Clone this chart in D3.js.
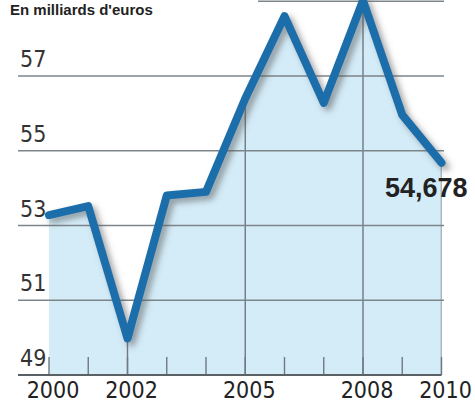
<!DOCTYPE html>
<html><head><meta charset="utf-8">
<script src="https://cdn.jsdelivr.net/npm/d3@7"></script>
<style>
html,body{margin:0;padding:0;background:#fff;}
svg{display:block;}
</style></head>
<body>
<svg id="c" width="475" height="405"></svg>
<script>
const title = "En milliards d'euros";
const years = [2000,2001,2002,2003,2004,2005,2006,2007,2008,2009,2010];
const values = [53.28,53.52,49.98,53.8,53.9,56.4,58.6,56.28,59.02,55.96,54.678];
const yTicks = [49,51,53,55,57,59];
const yTickLabels = ["49","51","53","55","57",""];
const xTickLabels = [2000,2002,2005,2008,2010];
const fullGridYears = [2002,2005,2008,2010];
const lastLabel = "54,678";

const svg = d3.select("#c");
const x = d3.scaleLinear().domain([2000,2010]).range([49,441.5]);
const y = d3.scaleLinear().domain([49,59]).range([375,1.25]);

const data = years.map((yr,i)=>({yr, v: values[i]}));

const defs = svg.append("defs");
const f = defs.append("filter").attr("id","sh").attr("x","-20%").attr("y","-20%").attr("width","140%").attr("height","140%");
f.append("feDropShadow").attr("dx",4).attr("dy",4).attr("stdDeviation",3).attr("flood-color","#555").attr("flood-opacity",0.55);

const area = d3.area().x(d=>x(d.yr)).y0(y(49)).y1(d=>y(d.v));
defs.append("clipPath").attr("id","ac").append("path").attr("d", area(data));

// area fill
svg.append("path").attr("d", area(data)).attr("fill","#d3ecf8");

// vertical gridlines clipped to area
svg.append("g").attr("clip-path","url(#ac)")
  .selectAll("line").data(fullGridYears).join("line")
  .attr("x1",d=>x(d)).attr("x2",d=>x(d))
  .attr("y1",0).attr("y2",y(49))
  .attr("stroke","#6f7a80").attr("stroke-width",1.4);

// small ticks
svg.append("g").selectAll("line").data(years).join("line")
  .attr("x1",d=>x(d)).attr("x2",d=>x(d))
  .attr("y1",y(49)-18).attr("y2",y(49))
  .attr("stroke","#6f7a80").attr("stroke-width",1.4);

// horizontal gridlines
svg.append("g").selectAll("line").data(yTicks).join("line")
  .attr("x1",d=>d===59?258:18).attr("x2",d=>d===49?x(2010):444)
  .attr("y1",d=>y(d)).attr("y2",d=>y(d))
  .attr("stroke",d=>d===49?"#5a6166":"#7d8589").attr("stroke-width",d=>d===49?2:1.4);

// y labels
svg.append("g").selectAll("text").data(yTicks).join("text")
  .attr("x",20).attr("y",d=>y(d)-9)
  .attr("font-family","'Liberation Sans Narrow','DejaVu Sans Condensed',sans-serif")
  .attr("font-size",23).attr("fill","#333")
  .text((d,i)=>yTickLabels[i]);

// x labels
svg.append("g").selectAll("text").data(xTickLabels).join("text")
  .attr("x",d=>x(d)+4).attr("y",398)
  .attr("text-anchor","middle")
  .attr("font-family","'Liberation Sans Narrow','DejaVu Sans Condensed',sans-serif")
  .attr("font-size",23).attr("fill","#222")
  .text(d=>d);

// line
const line = d3.line().x(d=>x(d.yr)).y(d=>y(d.v));
svg.append("path").attr("d", line(data))
  .attr("fill","none").attr("stroke","#1b6eaa").attr("stroke-width",8)
  .attr("stroke-linejoin","round").attr("stroke-linecap","round")
  .attr("filter","url(#sh)");

// title
svg.append("text").attr("x",10).attr("y",15)
  .attr("font-family","'Liberation Sans',sans-serif").attr("font-weight","bold")
  .attr("font-size",15).attr("fill","#222").text(title);

// last value label
svg.append("text").attr("x",x(2010)+26).attr("y",y(values[values.length-1])+34)
  .attr("text-anchor","end")
  .attr("font-family","'Liberation Sans',sans-serif").attr("font-weight","bold")
  .attr("font-size",27).attr("fill","#222").text(lastLabel);
</script>
</body></html>
